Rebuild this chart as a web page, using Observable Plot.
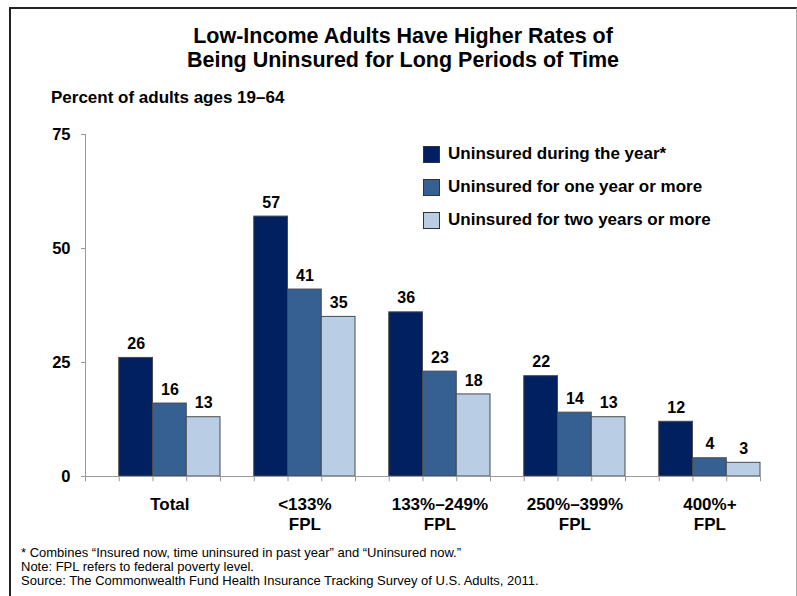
<!DOCTYPE html>
<html>
<head>
<meta charset="utf-8">
<script src="https://cdn.jsdelivr.net/npm/d3@7"></script>
<script src="https://cdn.jsdelivr.net/npm/@observablehq/plot@0.6"></script>
<style>
  body { margin: 0; background: #fff; }
  #wrap { position: relative; width: 797px; height: 596px; overflow: hidden; font-family: "Liberation Sans", Arial, sans-serif; color: #000; }
  #frame { position: absolute; left: 9px; top: 7px; width: 785px; height: 620px; border-left: 2px solid #222; border-top: 2px solid #222; border-right: 1px solid #aaa; }
  #title { position: absolute; left: 10px; width: 786px; top: 24px; text-align: center; font-weight: bold; font-size: 21.5px; line-height: 24px; }
  #subtitle { position: absolute; left: 51px; top: 88px; font-weight: bold; font-size: 17px; line-height: 20px; }
  #legend { position: absolute; left: 423px; top: 145px; }
  .lg { position: absolute; left: 0; height: 20px; white-space: nowrap; font-weight: bold; font-size: 17px; line-height: 20px; }
  .sw { position: absolute; left: 0; top: 1px; width: 15px; height: 15px; border: 1px solid #333; }
  .lt { position: absolute; left: 25px; top: -1px; }
  #notes { position: absolute; left: 21px; top: 546px; font-size: 13px; line-height: 14px; white-space: nowrap; }
  #chart { position: absolute; left: 0; top: 0; }
</style>
</head>
<body>
<div id="wrap">
  <div id="frame"></div>
  <div id="chart"></div>
  <div id="title">Low-Income Adults Have Higher Rates of<br>Being Uninsured for Long Periods of Time</div>
  <div id="subtitle">Percent of adults ages 19–64</div>
  <div id="legend"></div>
  <div id="notes">* Combines “Insured now, time uninsured in past year” and “Uninsured now.”<br>Note: FPL refers to federal poverty level.<br>Source: The Commonwealth Fund Health Insurance Tracking Survey of U.S. Adults, 2011.</div>
</div>
<script>
const groups = ["Total", "<133%\nFPL", "133%–249%\nFPL", "250%–399%\nFPL", "400%+\nFPL"];
const seriesNames = ["Uninsured during the year*", "Uninsured for one year or more", "Uninsured for two years or more"];
const duringYear = [26, 57, 36, 22, 12];
const oneYearOrMore = [16, 41, 23, 14, 4];
const twoYearsOrMore = [13, 35, 18, 13, 3];
const seriesColors = ["#002060", "#376092", "#B9CDE5"];
const yTicks = [0, 25, 50, 75];

const seriesValues = [duringYear, oneYearOrMore, twoYearsOrMore];
const data = [];
groups.forEach((g, gi) => {
  seriesNames.forEach((s, si) => {
    data.push({group: g, series: s, key: g + "|" + s, value: seriesValues[si][gi]});
  });
});
// band slots: one empty slot before each group, then one slot per series
const slots = [];
groups.forEach((g, gi) => {
  slots.push("gap|" + gi);
  seriesNames.forEach(s => slots.push(g + "|" + s));
});
const labelKeys = groups.map(g => ({key: g + "|" + seriesNames[1], label: g}));
const lastSlot = slots[slots.length - 1];

function make(bw) {
  return Plot.plot({
    width: 797,
    height: 540,
    marginLeft: 85,
    marginRight: 37,
    marginTop: 134,
    marginBottom: 64,
    style: {fontFamily: "'Liberation Sans', Arial, sans-serif", fontSize: "16px", background: "transparent"},
    x: {type: "band", domain: slots, padding: 0, round: false, axis: null},
    y: {domain: [0, 75], axis: null},
    color: {domain: seriesNames, range: seriesColors},
    marks: [
      Plot.frame({anchor: "left", stroke: "#9a9a9a"}),
      Plot.axisY({ticks: yTicks, label: null, tickSize: 4, tickPadding: 11, stroke: "#9a9a9a", fill: "#000", fontWeight: "bold", fontSize: 16.5, tickFormat: d => String(d)}),
      Plot.barY(data, {x: "key", y: "value", fill: "series", stroke: "#4a4a4a", strokeWidth: 1}),
      Plot.ruleY([0], {stroke: "#9a9a9a"}),
      Plot.ruleX(slots, {x: d => d, y1: 0, y2: -1.15, dx: -bw / 2, stroke: "#9a9a9a"}),
      Plot.ruleX([lastSlot], {x: d => d, y1: 0, y2: -1.15, dx: bw / 2, stroke: "#9a9a9a"}),
      Plot.text(data, {x: "key", y: "value", text: d => String(d.value), dy: -14, fontWeight: "bold", fontSize: 16, fill: "#000"}),
      Plot.text(labelKeys, {x: "key", y: () => 0, text: "label", lineAnchor: "top", dy: 19, lineHeight: 1.18, fontWeight: "bold", fontSize: 17, fill: "#000"})
    ]
  });
}
const probe = make(0);
const bw = probe.scale("x").bandwidth;
document.getElementById("chart").appendChild(make(bw));

// legend from series arrays
const legend = document.getElementById("legend");
seriesNames.forEach((s, i) => {
  const row = document.createElement("div");
  row.className = "lg";
  row.style.top = (i * 33) + "px";
  const sw = document.createElement("div");
  sw.className = "sw";
  sw.style.background = seriesColors[i];
  const t = document.createElement("div");
  t.className = "lt";
  t.textContent = s;
  row.appendChild(sw); row.appendChild(t);
  legend.appendChild(row);
});
</script>
</body>
</html>
